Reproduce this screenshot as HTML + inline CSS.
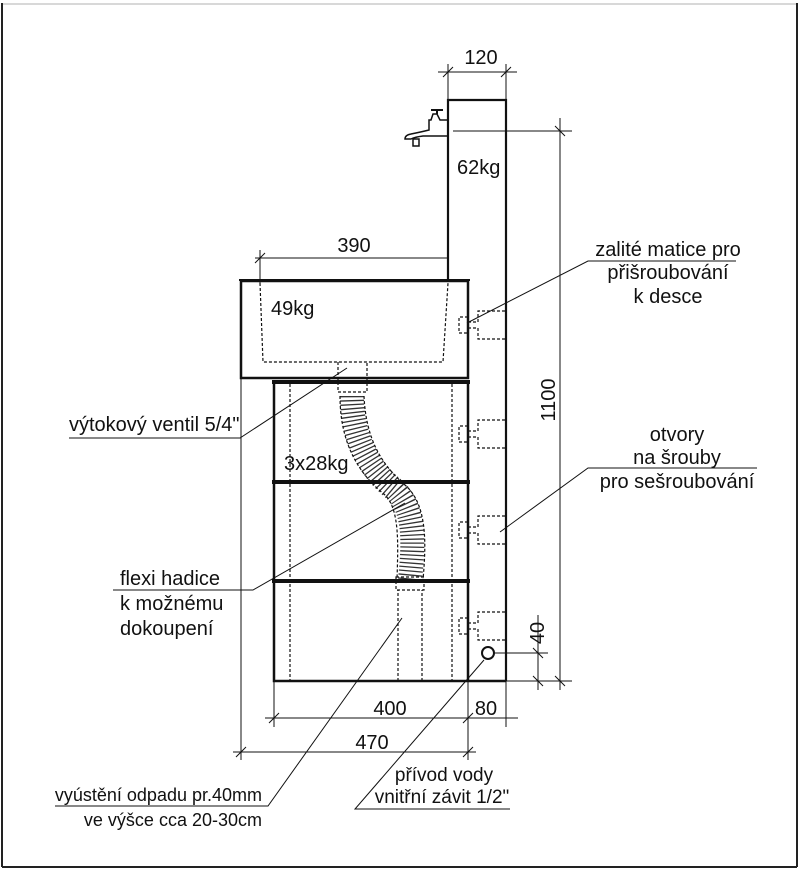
<!DOCTYPE html>
<html><head><meta charset="utf-8"><style>
html,body{margin:0;padding:0;background:#fff}
svg{display:block}
text{font-family:"Liberation Sans",sans-serif;font-size:20px;fill:#111}
</style></head><body>
<svg width="800" height="870" viewBox="0 0 800 870" xmlns="http://www.w3.org/2000/svg">
<line x1="2" y1="4" x2="797" y2="4" stroke="#ccc" stroke-width="1.5"/>
<line x1="2" y1="3" x2="2" y2="867" stroke="#222" stroke-width="2"/>
<line x1="797" y1="3" x2="797" y2="867" stroke="#222" stroke-width="2"/>
<line x1="2" y1="867" x2="797" y2="867" stroke="#222" stroke-width="2"/>
<g stroke="#111" fill="none">
<path d="M448 281 V100 H506 V681" stroke-width="2.2"/>
<path d="M448 120 h-8 l-3 -6 h-4 l-2 6 h-2 v10 q-8 2 -18 4 q-6 1 -6 5 h6 q4 -2 12 -3 h25" stroke-width="1.5"/>
<path d="M431 110 h12 M437 110 v4" stroke-width="2"/>
<rect x="413" y="139" width="6" height="7" stroke-width="1.5"/>
<rect x="241" y="281" width="227" height="97" stroke-width="2.5"/>
<line x1="239" y1="280" x2="470" y2="280" stroke-width="2"/>
<g stroke-dasharray="3,2" stroke-width="1.2">
<path d="M260 283 L263 362 H443 L448 283"/>
<path d="M338 362 V392 H367 V362"/>
<line x1="290" y1="384" x2="290" y2="681"/>
<line x1="452" y1="384" x2="452" y2="681"/>
<path d="M398 681 V590 M422 681 V590"/>
<rect x="396" y="577" width="28" height="13"/>
<path d="M468 317 h-9 v16 h9 M468 322 h10 v-11 h28 M468 328 h10 v11 h28"/>
<path d="M468 426 h-9 v16 h9 M468 431 h10 v-11 h28 M468 437 h10 v11 h28"/>
<path d="M468 522 h-9 v16 h9 M468 527 h10 v-11 h28 M468 533 h10 v11 h28"/>
<path d="M468 618 h-9 v16 h9 M468 623 h10 v-11 h28 M468 629 h10 v11 h28"/>
</g>
<path d="M352 396 C352 440 370 470 395 490 C415 510 414 540 410 580" stroke="#333" stroke-width="24" stroke-dasharray="1.3,2.7"/>
<path d="M340 396 C340 445 360 475 385 495 C400 510 398 545 397 580" stroke-dasharray="3,2" stroke-width="1.2"/>
<path d="M364 396 C366 440 382 465 405 485 C428 505 426 545 423 580" stroke-dasharray="3,2" stroke-width="1.2"/>
<path d="M274 382 V681 H506 M468 681 V382" stroke-width="2.5"/>
<line x1="272" y1="382" x2="470" y2="382" stroke-width="4"/>
<line x1="272" y1="482" x2="470" y2="482" stroke-width="4"/>
<line x1="272" y1="581" x2="470" y2="581" stroke-width="4"/>
<circle cx="488" cy="653" r="6" stroke-width="2"/>
<g stroke-width="1">
<line x1="438" y1="72" x2="517" y2="72"/><line x1="448" y1="64" x2="448" y2="100"/><line x1="506" y1="64" x2="506" y2="100"/>
<path d="M443 77 l10 -10 M501 77 l10 -10"/>
<line x1="453" y1="131" x2="572" y2="131"/><line x1="506" y1="681" x2="572" y2="681"/>
<line x1="560" y1="118" x2="560" y2="690"/>
<path d="M555 126 l10 10 M555 676 l10 10"/>
<line x1="494" y1="653" x2="548" y2="653"/>
<line x1="538" y1="615" x2="538" y2="690"/>
<path d="M533 648 l10 10 M533 676 l10 10"/>
<line x1="255" y1="258" x2="448" y2="258"/><line x1="260" y1="250" x2="260" y2="283"/>
<path d="M255 263 l10 -10"/>
<line x1="265" y1="718" x2="518" y2="718"/>
<line x1="274" y1="681" x2="274" y2="727"/><line x1="468" y1="681" x2="468" y2="760"/><line x1="506" y1="681" x2="506" y2="727"/>
<path d="M269 723 l10 -10 M463 723 l10 -10"/>
<line x1="233" y1="752" x2="476" y2="752"/><line x1="241" y1="378" x2="241" y2="760"/>
<path d="M236 757 l10 -10 M463 757 l10 -10"/>
<path d="M69 438 H240 L347 368"/>
<path d="M113 590 H253 L405 503"/>
<path d="M55 806 H268 L402 618"/>
<path d="M510 809 H355 L484 660"/>
<path d="M467 323 L588 261 H736"/>
<path d="M500 532 L588 468 H757"/>
</g>
</g>
<text x="481" y="64" text-anchor="middle">120</text>
<text x="457" y="174">62kg</text>
<text x="354" y="252" text-anchor="middle">390</text>
<text x="271" y="315">49kg</text>
<text x="284" y="470">3x28kg</text>
<text x="390" y="715" text-anchor="middle">400</text>
<text x="486" y="715" text-anchor="middle">80</text>
<text x="372" y="749" text-anchor="middle">470</text>
<text transform="translate(555,400) rotate(-90)" text-anchor="middle">1100</text>
<text transform="translate(544,633) rotate(-90)" text-anchor="middle">40</text>
<text x="69" y="431">výtokový ventil 5/4"</text>
<text x="120" y="585">flexi hadice</text>
<text x="120" y="610">k možnému</text>
<text x="120" y="635">dokoupení</text>
<text x="262" y="801" text-anchor="end" style="font-size:18px">vyústění odpadu pr.40mm</text>
<text x="262" y="826" text-anchor="end" style="font-size:18px">ve výšce cca 20-30cm</text>
<text x="444" y="781" text-anchor="middle" style="font-size:19px">přívod vody</text>
<text x="442" y="803" text-anchor="middle" style="font-size:19px">vnitřní závit 1/2"</text>
<text x="668" y="256" text-anchor="middle">zalité matice pro</text>
<text x="668" y="279" text-anchor="middle">přišroubování</text>
<text x="668" y="303" text-anchor="middle">k desce</text>
<text x="677" y="441" text-anchor="middle">otvory</text>
<text x="677" y="464" text-anchor="middle">na šrouby</text>
<text x="677" y="488" text-anchor="middle">pro sešroubování</text>
</svg>
</body></html>
